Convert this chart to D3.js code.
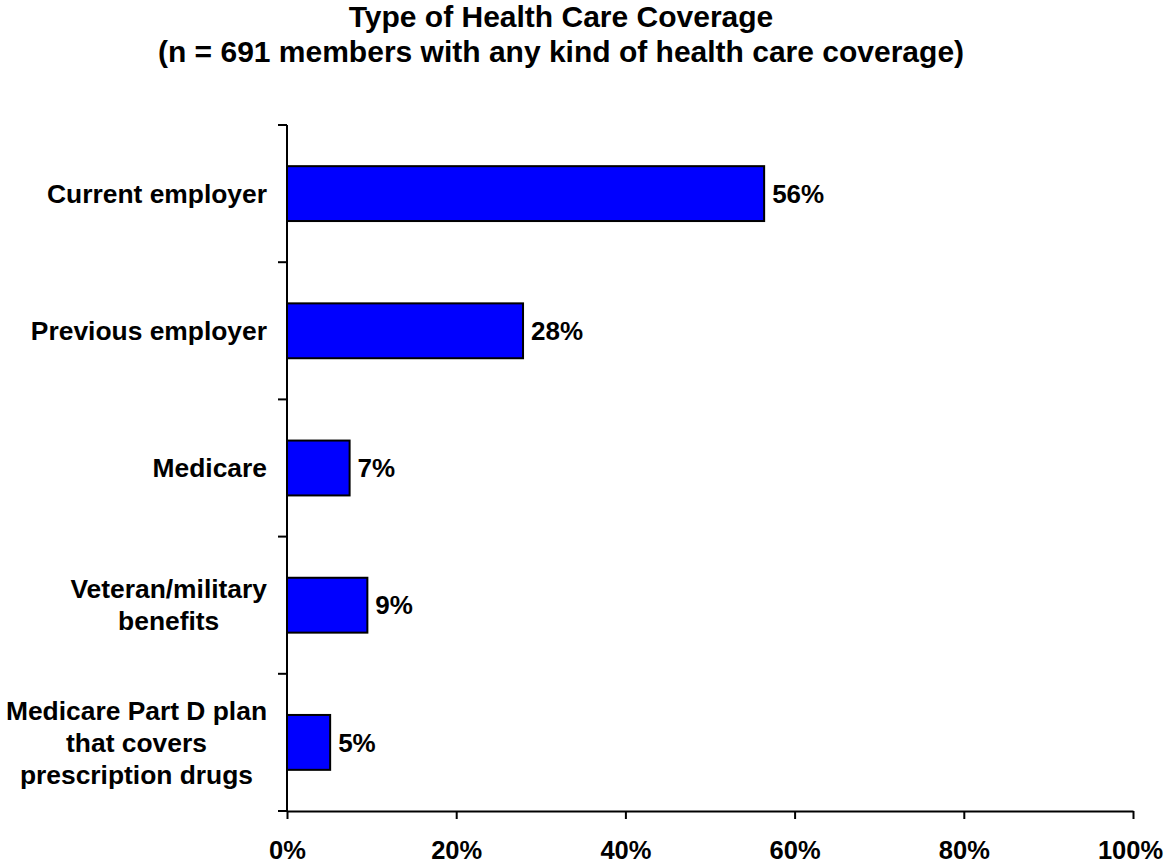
<!DOCTYPE html>
<html>
<head>
<meta charset="utf-8">
<script src="https://cdn.jsdelivr.net/npm/d3@7"></script>
<style>
  html, body { margin: 0; padding: 0; background: #fff; }
  svg { display: block; }
  text { font-family: Arial, "Liberation Sans", sans-serif; font-weight: bold; fill: #000; }
</style>
</head>
<body>
<svg id="chart" width="1165" height="867"></svg>
<script>
const titleLines = ["Type of Health Care Coverage", "(n = 691 members with any kind of health care coverage)"];
const categories = [
  ["Current employer"],
  ["Previous employer"],
  ["Medicare"],
  ["Veteran/military", "benefits"],
  ["Medicare Part D plan", "that covers", "prescription drugs"]
];
const values = [56.4, 27.9, 7.4, 9.5, 5.1];
const valueLabels = ["56%", "28%", "7%", "9%", "5%"];
const xTicks = [0, 20, 40, 60, 80, 100];

const svg = d3.select("#chart");
const plotLeft = 287, plotRight = 1133, plotTop = 125, plotBottom = 811;

const keys = categories.map((c, i) => i);
const x = d3.scaleLinear().domain([0, 100]).range([plotLeft, plotRight]);
const y = d3.scaleBand().domain(keys).range([plotTop, plotBottom]).paddingInner(0.6).paddingOuter(0.3);

// Title
svg.append("g").selectAll("text").data(titleLines).join("text")
  .attr("x", 561)
  .attr("y", (d, i) => 27 + i * 35)
  .attr("text-anchor", "middle")
  .style("font-size", "30px")
  .text(d => d);

// Bars
svg.append("g").selectAll("rect").data(values).join("rect")
  .attr("x", x(0))
  .attr("y", (d, i) => y(i))
  .attr("width", d => x(d) - x(0))
  .attr("height", y.bandwidth())
  .attr("fill", "#0000FF")
  .attr("stroke", "#000")
  .attr("stroke-width", 2);

// Value labels
svg.append("g").selectAll("text").data(values).join("text")
  .attr("x", d => x(d) + 8)
  .attr("y", (d, i) => y(i) + y.bandwidth() / 2)
  .attr("dy", "0.35em")
  .style("font-size", "26px")
  .text((d, i) => valueLabels[i]);

// Y axis (category boundaries as ticks)
const yAxisG = svg.append("g");
yAxisG.append("line")
  .attr("x1", plotLeft).attr("x2", plotLeft)
  .attr("y1", plotTop).attr("y2", plotBottom)
  .attr("stroke", "#000").attr("stroke-width", 2);
const step = y.step();
const bounds = d3.range(categories.length + 1).map(i => plotTop + i * step);
yAxisG.selectAll("line.tick").data(bounds).join("line")
  .attr("class", "tick")
  .attr("x1", plotLeft - 9).attr("x2", plotLeft)
  .attr("y1", d => d).attr("y2", d => d)
  .attr("stroke", "#000").attr("stroke-width", 2);

// Category labels
const lineH = 32;
const labG = svg.append("g");
categories.forEach((lines, i) => {
  const cy = y(i) + y.bandwidth() / 2;
  const g = labG.append("g");
  const t = g.selectAll("text").data(lines).join("text")
    .attr("y", (d, j) => cy + (j - (lines.length - 1) / 2) * lineH)
    .attr("dy", "0.35em")
    .attr("text-anchor", "middle")
    .style("font-size", "26.4px")
    .text(d => d);
  let maxW = 0;
  t.each(function() { maxW = Math.max(maxW, this.getComputedTextLength()); });
  t.attr("x", plotLeft - 20 - maxW / 2);
});

// X axis
const xAxis = d3.axisBottom(x).tickValues(xTicks).tickFormat(d => d + "%").tickSize(8).tickSizeOuter(0).tickPadding(22);
const xg = svg.append("g").attr("transform", `translate(0,${plotBottom})`).call(xAxis);
xg.select(".domain").attr("stroke", "#000").attr("stroke-width", 2);
xg.selectAll(".tick line").attr("stroke", "#000").attr("stroke-width", 2);
xg.selectAll(".tick text")
  .style("font-family", "Arial, 'Liberation Sans', sans-serif")
  .style("font-weight", "bold")
  .style("font-size", "25.5px")
  .attr("fill", "#000")
  .attr("dx", d => d === 100 ? -3 : 0);
</script>
</body>
</html>
